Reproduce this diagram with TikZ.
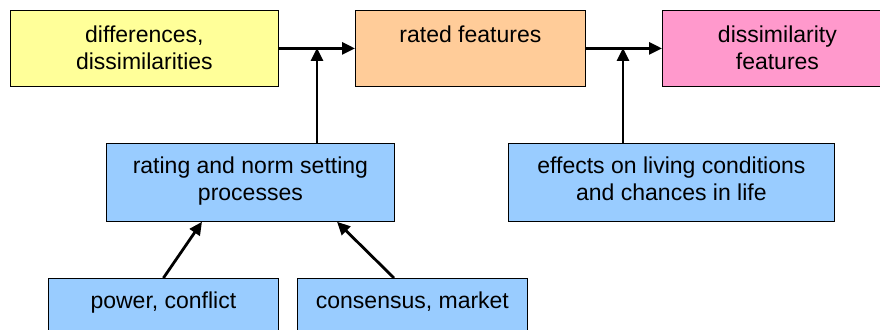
\documentclass[tikz,border=0pt]{standalone}
\usepackage{fontspec}
\setmainfont{Liberation Sans}
\usetikzlibrary{arrows.meta}

\definecolor{boxyellow}{HTML}{FFFF99}
\definecolor{boxorange}{HTML}{FFCC99}
\definecolor{boxpink}{HTML}{FF99CC}
\definecolor{boxblue}{HTML}{99CCFF}

% Cell content: width, height, first baseline from top, text
\newcommand\cell[4]{%
  \begin{minipage}[t][#2pt][t]{#1pt}%
    \fontsize{23}{27}\selectfont\centering
    \rule{0pt}{#3pt}#4%
  \end{minipage}}

\tikzset{
  box/.style={draw=black, line width=0.8pt, inner sep=0pt, anchor=north west},
  flow/.style={line width=2.8pt, -{Triangle[length=13pt,width=12pt]}},
}

\begin{document}
\begin{tikzpicture}[x=1pt, y=-1pt]
  \clip (0,0) rectangle (880,329);
  \fill[white] (0,0) rectangle (880,329);

  % top row
  \node[box, fill=boxyellow] (diff) at (10,10)
    {\cell{268}{76}{32}{differences,\\dissimilarities}};
  \node[box, fill=boxorange] (rated) at (355,10)
    {\cell{230}{76}{32}{rated features}};
  \node[box, fill=boxpink] (diss) at (662,10)
    {\cell{230}{76}{32}{dissimilarity\\features}};

  % middle row
  \node[box, fill=boxblue] (rating) at (106,143)
    {\cell{288}{78}{30}{rating and norm setting\\processes}};
  \node[box, fill=boxblue] (effects) at (508,143)
    {\cell{326}{78}{30}{effects on living conditions\\and chances in life}};

  % bottom row
  \node[box, fill=boxblue] (power) at (48,278)
    {\cell{230}{70}{30}{power, conflict}};
  \node[box, fill=boxblue] (consensus) at (297,278)
    {\cell{230}{70}{30}{consensus, market}};

  % junctions on the main line
  \coordinate (j1) at (317,48);
  \coordinate (j2) at (623,48);

  % connectors
  \draw[flow] (diff.east) -- (rated.west);
  \draw[flow] (rated.east) -- (diss.west);
  \draw[flow] ([xshift=211pt]rating.north west) -- (j1);
  \draw[flow] ([xshift=115pt]effects.north west) -- (j2);
  \draw[flow] (power.north) -- ([xshift=96pt]rating.south west);
  \draw[flow] ([xshift=97pt]consensus.north west) -- ([xshift=231pt]rating.south west);
\end{tikzpicture}
\end{document}
